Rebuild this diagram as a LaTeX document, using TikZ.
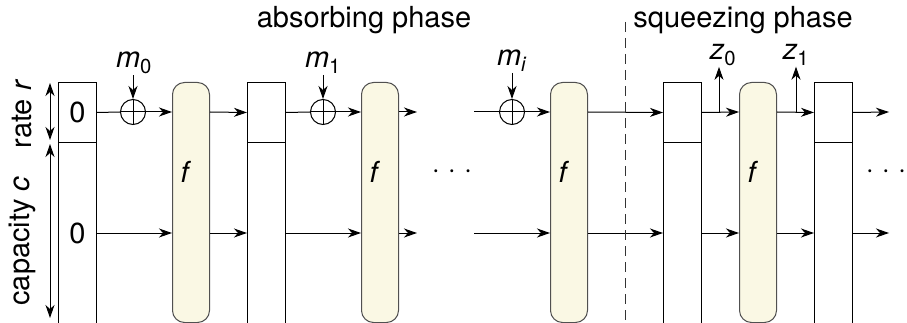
\documentclass[tikz,border=0pt]{standalone}
\usepackage{fontspec}
\setmainfont{TeX Gyre Heros}
\usetikzlibrary{arrows.meta}
\definecolor{fcol}{HTML}{FAF8E4}
\definecolor{fborder}{HTML}{505050}
\begin{document}
\begin{tikzpicture}[x=1pt,y=-1pt, font=\fontsize{29}{34}\selectfont,
  >={Stealth[length=13pt,width=9pt,inset=4pt]},
  statebox/.style={draw, line width=1pt, minimum width=38pt, inner sep=0pt, anchor=north west},
  permbox/.style={draw=fborder, fill=fcol, rounded corners=12pt, line width=1pt, minimum width=37pt, minimum height=240pt, anchor=north west, inner sep=0pt},
  xorbox/.style={circle, draw, minimum size=25pt, inner sep=0pt, line width=1pt,
    path picture={\draw[line width=1pt] (path picture bounding box.north) -- (path picture bounding box.south) (path picture bounding box.west) -- (path picture bounding box.east);}},
  conn/.style={->, line width=1pt},
  plain/.style={line width=1pt},
  lbl/.style={inner sep=1pt},
]
\clip (0,0) rectangle (907,323);
% row coordinates
\coordinate (rowR) at (0,112);
\coordinate (rowC) at (0,233);
% state boxes
\node[statebox, minimum height=60pt] (r1) at (58,82) {0};
\node[statebox, minimum height=200pt] (c1) at (58,142) {};
\node[statebox, minimum height=60pt] (r2) at (247,82) {};
\node[statebox, minimum height=200pt] (c2) at (247,142) {};
\node[statebox, minimum height=60pt] (r3) at (663,82) {};
\node[statebox, minimum height=200pt] (c3) at (663,142) {};
\node[statebox, minimum height=60pt] (r4) at (814,82) {};
\node[statebox, minimum height=200pt] (c4) at (814,142) {};
\node (zero) at (rowC -| r1.center) {0};
% permutations
\node[permbox] (f1) at (172,82) {};
\node[permbox] (f2) at (361,82) {};
\node[permbox] (f3) at (550,82) {};
\node[permbox] (f4) at (739,82) {};
\node (f1t) at (186,172) {\textit{f}};
\node (f2t) at (375,172) {\textit{f}};
\node (f3t) at (564,172) {\textit{f}};
\node (f4t) at (753,172) {\textit{f}};
% xors
\node[xorbox] (x0) at (133,112) {};
\node[xorbox] (x1) at (323,112) {};
\node[xorbox] (x2) at (512,112) {};
% messages
\node[lbl] (m0) at (134,63) {\textit{m}\textsubscript{0}};
\node[lbl] (m1) at (323,63) {\textit{m}\textsubscript{1}};
\node[lbl] (mi) at (512,61) {\textit{m}\textsubscript{\textit{i}}};
\draw[conn] (m0.south -| x0) -- (x0.north);
\draw[conn] (m1.south -| x1) -- (x1.north);
\draw[conn] (mi.south -| x2) -- (x2.north);
% free ends
\coordinate (e2r) at (417,112);
\coordinate (e2c) at (417,233);
\coordinate (s3r) at (474,112);
\coordinate (s3c) at (474,233);
\coordinate (e4r) at (889,112);
\coordinate (e4c) at (889,233);
% rate row
\draw[plain] (r1.east) -- (x0.west);
\draw[conn] (x0.east) -- (rowR -| f1.west);
\draw[conn] (rowR -| f1.east) -- (r2.west);
\draw[plain] (r2.east) -- (x1.west);
\draw[conn] (x1.east) -- (rowR -| f2.west);
\draw[conn] (rowR -| f2.east) -- (e2r);
\draw[plain] (s3r) -- (x2.west);
\draw[conn] (x2.east) -- (rowR -| f3.west);
\draw[conn] (rowR -| f3.east) -- (r3.west);
\draw[conn] (r3.east) -- (rowR -| f4.west);
\draw[conn] (rowR -| f4.east) -- (r4.west);
\draw[conn] (r4.east) -- (e4r);
% capacity row
\draw[conn] (rowC -| c1.east) -- (rowC -| f1.west);
\draw[conn] (rowC -| f1.east) -- (rowC -| c2.west);
\draw[conn] (rowC -| c2.east) -- (rowC -| f2.west);
\draw[conn] (rowC -| f2.east) -- (e2c);
\draw[conn] (s3c) -- (rowC -| f3.west);
\draw[conn] (rowC -| f3.east) -- (rowC -| c3.west);
\draw[conn] (rowC -| c3.east) -- (rowC -| f4.west);
\draw[conn] (rowC -| f4.east) -- (rowC -| c4.west);
\draw[conn] (rowC -| c4.east) -- (e4c);
% outputs
\coordinate (zb0) at (719,112);
\coordinate (zb1) at (796,112);
\node[lbl] (z0) at (723,55) {\textit{z}\textsubscript{0}};
\node[lbl] (z1) at (796,55) {\textit{z}\textsubscript{1}};
\draw[conn] (zb0) -- (zb0 |- z0.south);
\draw[conn] (zb1) -- (zb1 |- z1.south);
% dots
\node (dots1) at (452,174) {·\hspace{8pt}·\hspace{8pt}·};
\node (dots2) at (886,174) {·\hspace{8pt}·\hspace{8pt}·};
% phase labels
\node[anchor=base] (abs) at (364,28) {absorbing phase};
\node[anchor=base] (sqz) at (743,28) {squeezing phase};
\coordinate (dtop) at (625,22);
\coordinate (dbot) at (625,330);
\draw[line width=1pt, draw=black!80, dash pattern=on 10pt off 6pt] (dtop) -- (dbot);
% size arrows
\coordinate (ra) at (50,83);
\coordinate (rb) at (50,140);
\coordinate (ca) at (50,144);
\coordinate (cb) at (50,318);
\draw[<->, line width=1pt] (ra) -- (rb);
\draw[<->, line width=1pt] (ca) -- (cb);
\node[rotate=90] (lr) at (22,114) {rate \textit{r}};
\node[rotate=90] (lc) at (22,241) {capacity \textit{c}};
\end{tikzpicture}
\end{document}
